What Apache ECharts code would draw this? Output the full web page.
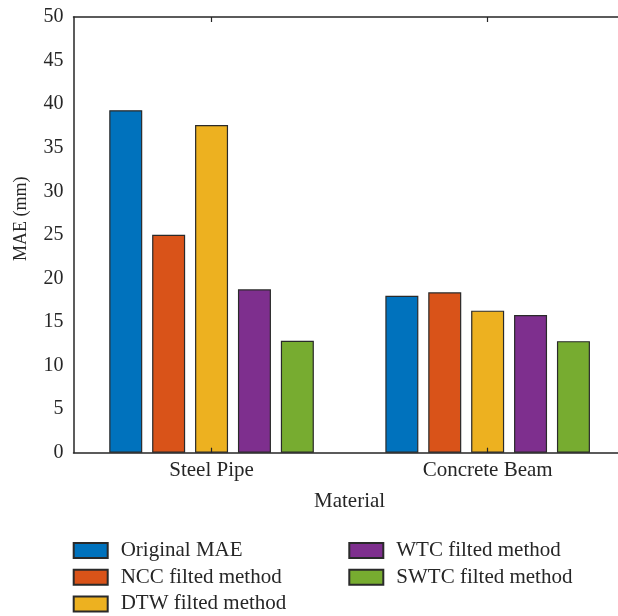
<!DOCTYPE html>
<html>
<head>
<meta charset="utf-8">
<script src="https://cdn.jsdelivr.net/npm/echarts@6/dist/echarts.min.js"></script>
<style>
  html, body { margin: 0; padding: 0; background: #fff; overflow: hidden; }
  #chart { width: 618px; height: 616px; }
</style>
</head>
<body>
<div id="chart"></div>
<script>
// Mean absolute error per material, for each filtering method
const materials = ['Steel Pipe', 'Concrete Beam'];
const seriesNames = [
  'Original MAE',
  'NCC filted method',
  'DTW filted method',
  'WTC filted method',
  'SWTC filted method'
];
const originalMAE = [39.3, 18.0];
const nccMAE = [25.0, 18.4];
const dtwMAE = [37.6, 16.3];
const wtcMAE = [18.75, 15.8];
const swtcMAE = [12.85, 12.8];
const yTicks = [0, 5, 10, 15, 20, 25, 30, 35, 40, 45, 50];

const palette = ['#0072BD', '#D95319', '#EDB120', '#7E2F8E', '#77AC30'];
const values = [originalMAE, nccMAE, dtwMAE, wtcMAE, swtcMAE];

const FONT = 'Liberation Serif';
const INK = '#262626';

const chart = echarts.init(document.getElementById('chart'), null, { renderer: 'canvas' });

const series = seriesNames.map((name, i) => ({
  name,
  type: 'bar',
  xAxisIndex: 0,
  yAxisIndex: 0,
  data: values[i],
  barWidth: 33,
  barGap: '30%',
  itemStyle: { color: palette[i], borderColor: '#2a2a2a', borderWidth: 1.2 },
  emphasis: { disabled: true }
}));

const legendBase = {
  orient: 'vertical',
  top: 540,
  padding: 0,
  itemWidth: 34,
  itemHeight: 15,
  itemGap: 5.7,
  icon: 'rect',
  selectedMode: false,
  textStyle: { fontFamily: FONT, fontSize: 21, color: INK, padding: [0, 0, 0, 8] }
};

const tickStyle = { show: true, inside: true, alignWithLabel: true, length: 5, lineStyle: { color: INK, width: 1.2 } };

chart.setOption({
  animation: false,
  backgroundColor: '#fff',
  // the plot box runs a little past the right edge of the canvas
  grid: {
    left: 73.5, width: 552.2, top: 17, height: 435.7,
    containLabel: false, outerBoundsMode: 'none'
  },
  legend: [
    Object.assign({}, legendBase, { left: 72.7, data: seriesNames.slice(0, 3) }),
    Object.assign({}, legendBase, { left: 348.3, data: seriesNames.slice(3) })
  ],
  xAxis: [
    {
      type: 'category',
      data: materials,
      position: 'bottom',
      z: 5,
      name: 'Material',
      nameLocation: 'middle',
      nameGap: 38,
      nameTextStyle: { fontFamily: FONT, fontSize: 21, color: INK },
      axisLine: { show: true, lineStyle: { color: INK, width: 1.5 } },
      axisTick: tickStyle,
      axisLabel: { show: true, fontFamily: FONT, fontSize: 21, color: INK, margin: 7 },
      splitLine: { show: false }
    },
    {
      type: 'category',
      data: materials,
      position: 'top',
      z: 5,
      axisLine: { show: true, lineStyle: { color: INK, width: 1.5 } },
      axisTick: tickStyle,
      axisLabel: { show: false },
      splitLine: { show: false }
    }
  ],
  yAxis: [
    {
      type: 'value',
      min: yTicks[0],
      max: yTicks[yTicks.length - 1],
      interval: 5,
      z: 5,
      name: 'MAE (mm)',
      nameLocation: 'middle',
      nameGap: 43,
      nameTextStyle: { fontFamily: FONT, fontSize: 18, color: INK, padding: [0, 0, 0, 32] },
      axisLine: { show: true, lineStyle: { color: INK, width: 1.5 } },
      axisTick: { show: false },
      axisLabel: { fontFamily: FONT, fontSize: 20, color: INK, margin: 10 },
      splitLine: { show: false }
    }
  ],
  series
});
</script>
</body>
</html>
